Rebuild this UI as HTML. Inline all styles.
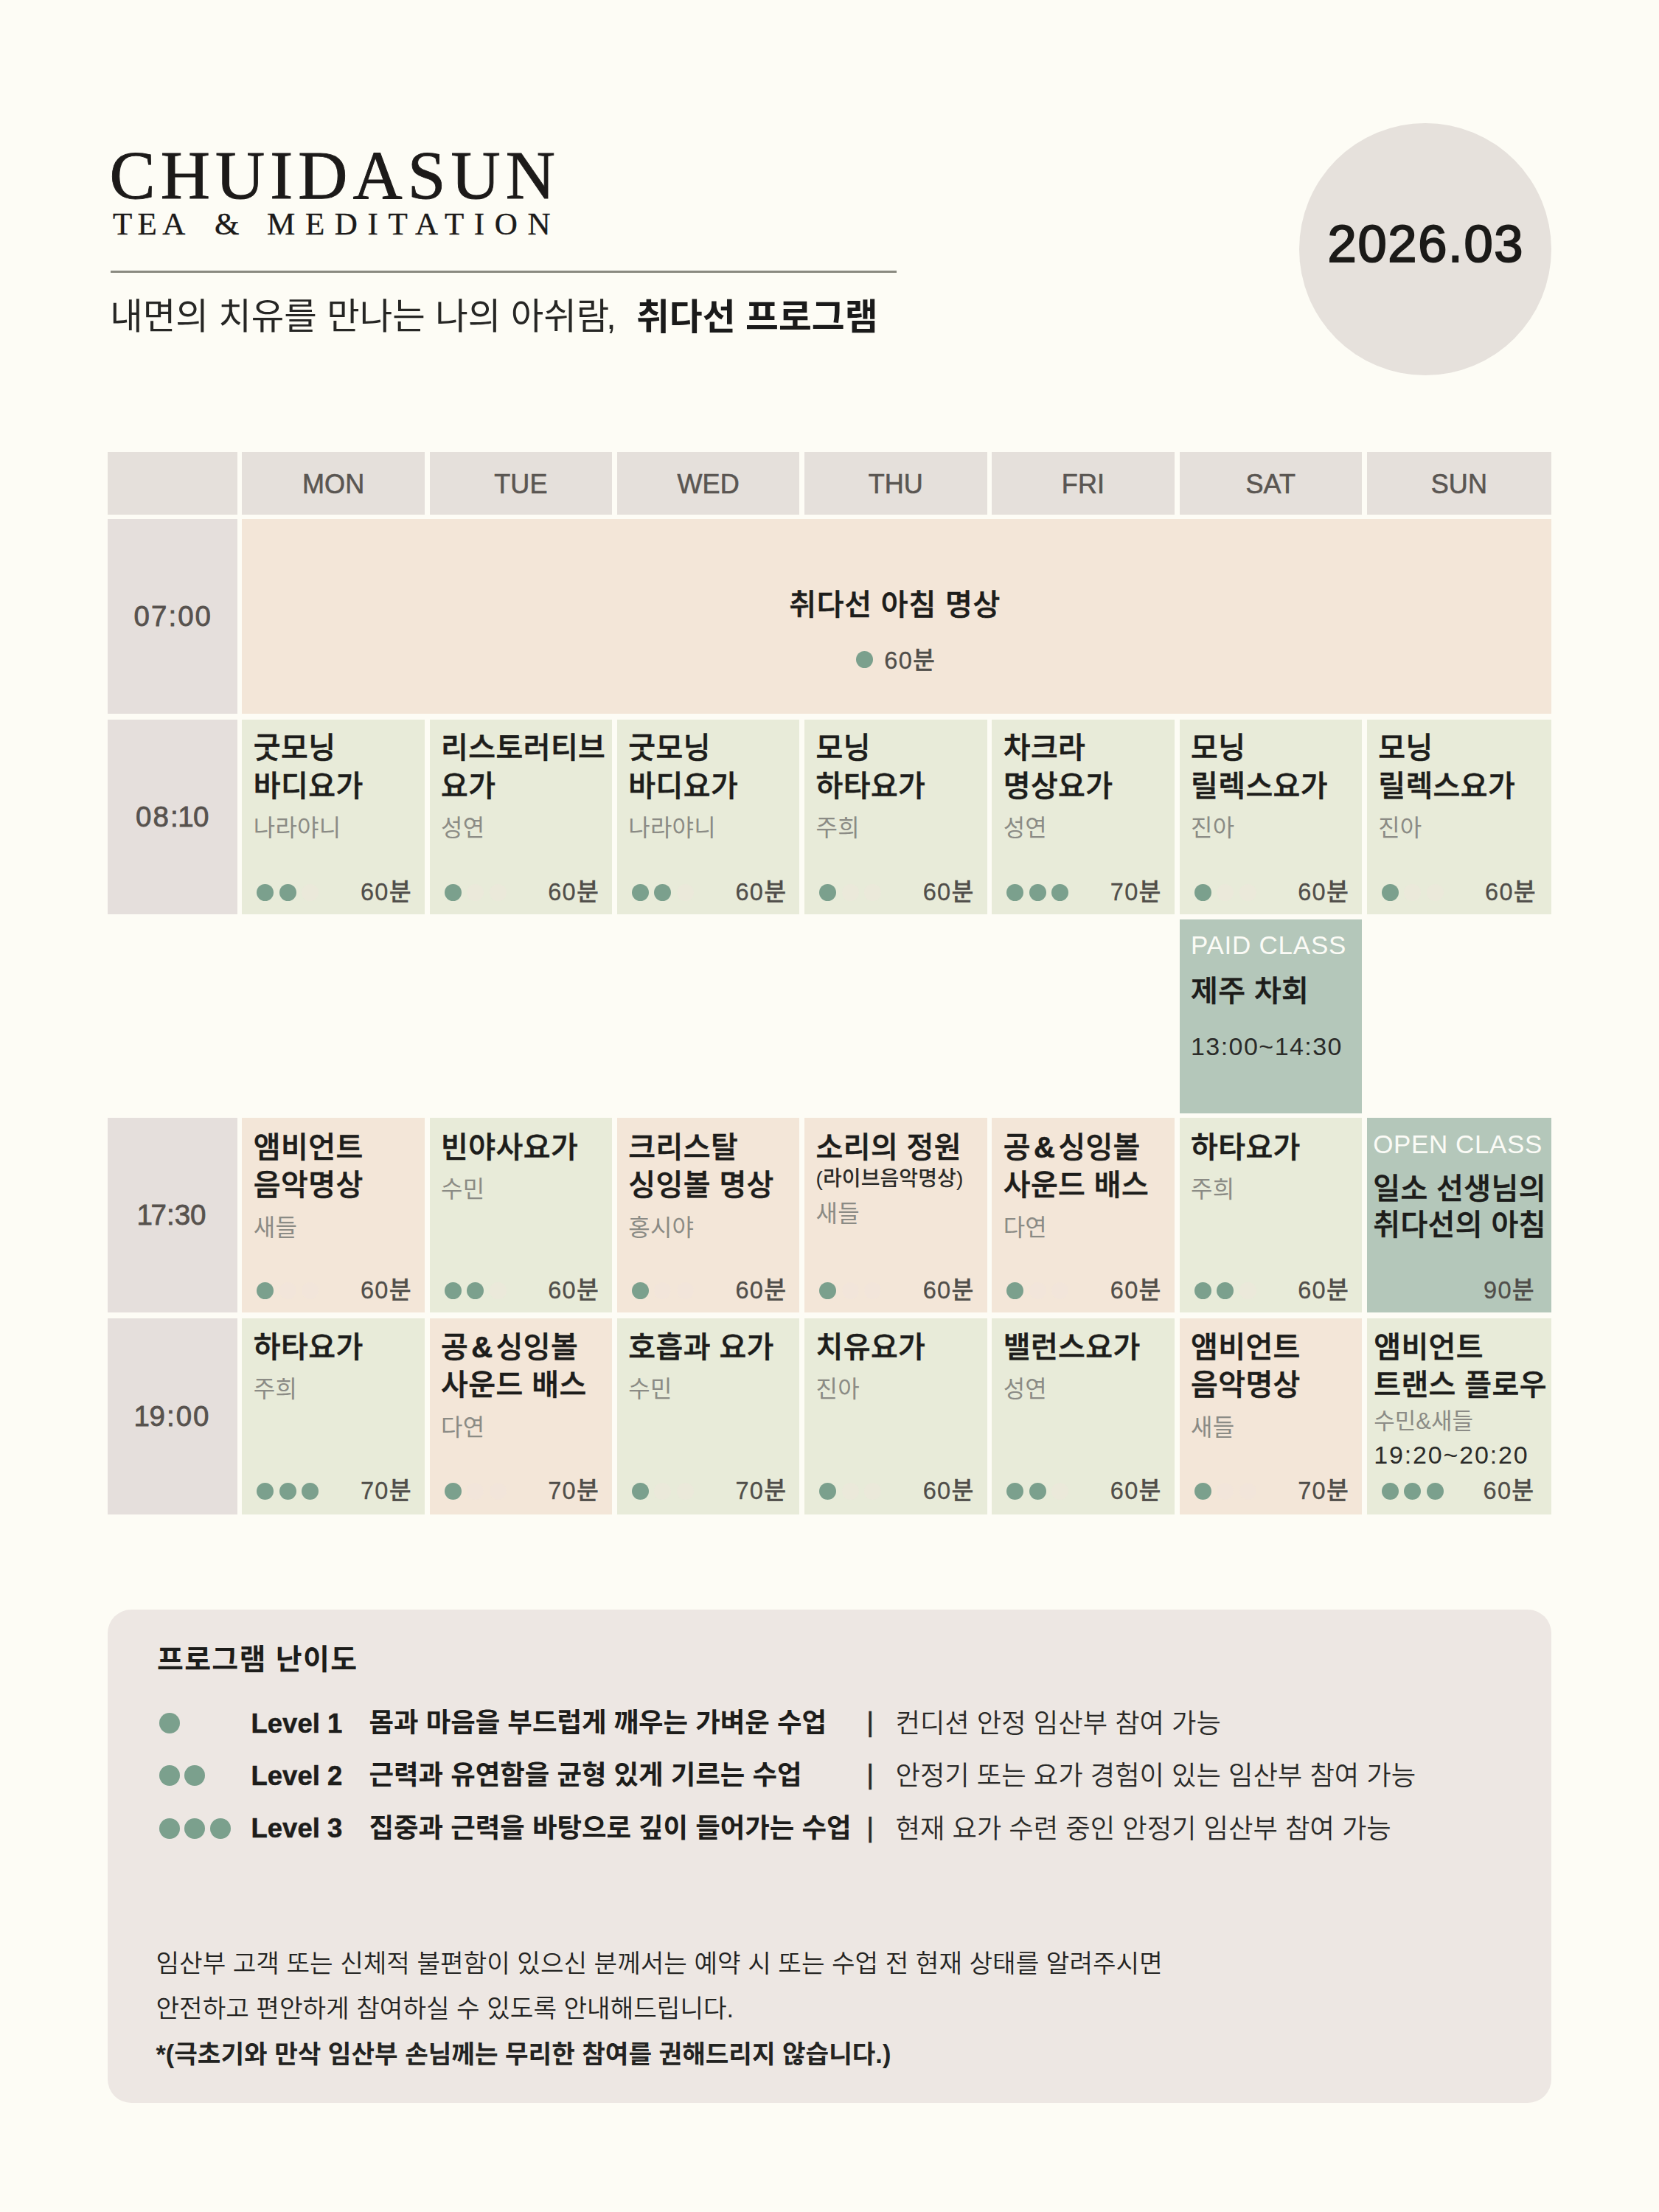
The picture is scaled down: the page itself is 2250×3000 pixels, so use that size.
<!DOCTYPE html>
<html lang="ko">
<head>
<meta charset="utf-8">
<title>CHUIDASUN 2026.03</title>
<style>
*{margin:0;padding:0;box-sizing:border-box}
html,body{width:2250px;height:3000px;background:#FDFCF5;overflow:hidden}
body{position:relative;font-family:"Liberation Sans","Noto Sans CJK KR",sans-serif;color:#1f1f1d}
.a{position:absolute;white-space:nowrap}
.c{position:absolute}
.hd{background:#E5E0DB;color:#5a5652;-webkit-text-stroke:.6px #5a5652;font-size:36px;line-height:88px;text-align:center;letter-spacing:.1px}
.tm{background:#E5DFDC;color:#57524e;font-weight:400;font-size:38.5px;letter-spacing:2px;text-indent:2px;text-align:center;-webkit-text-stroke:.8px #57524e}
.P{background:#F3E6D8}.G{background:#E8EBD9}.D{background:#B4C7BA}
.t{position:absolute;left:15.5px;top:13.5px;font-size:40px;line-height:51.5px;font-weight:500;-webkit-text-stroke:.6px #1d1d1b;color:#1d1d1b;white-space:nowrap;letter-spacing:.4px}
.n{display:block;font-size:32px;line-height:44px;font-weight:400;color:#8b8b85;letter-spacing:.2px;margin-top:9px;-webkit-text-stroke:0}
.s{display:block;-webkit-text-stroke:0;font-size:28px;line-height:32px;font-weight:500;color:#2a2a28;letter-spacing:.1px;margin-top:.7px;margin-bottom:2.7px}
.m{position:absolute;right:17px;top:212px;font-size:32.5px;line-height:44px;font-weight:500;color:#504e4a;-webkit-text-stroke:.3px #504e4a;letter-spacing:1.3px;white-space:nowrap}
.d{position:absolute;left:20px;top:223px;height:23px;white-space:nowrap;font-size:0}
.d i,.lg i{display:inline-block;width:23px;height:23px;border-radius:50%;background:#7BA08D;margin-right:7.6px}
.d i.g{background:rgba(241,229,221,.3)}
.k{position:absolute;left:15.5px;top:15.5px;font-size:35px;line-height:40px;color:#fbfbf6;letter-spacing:.75px;white-space:nowrap}
.lg1{font-family:"Liberation Serif","Noto Serif CJK SC",serif;font-size:93px;line-height:107px;letter-spacing:7.1px;color:#1c1a19;-webkit-text-stroke:.9px #1c1a19}
.lg2{font-family:"Liberation Serif","Noto Serif CJK SC",serif;font-size:43px;line-height:48px;letter-spacing:13px;color:#1c1a19;-webkit-text-stroke:.4px #1c1a19}
.x{display:block;-webkit-text-stroke:0;font-size:34px;line-height:40px;font-weight:400;color:#2b2b29;letter-spacing:1.85px;margin-top:2.5px}
.am{padding:0 4px;font-weight:700}
.o{margin:0 -2.5px}
</style>
</head>
<body>
<div class="a lg1" style="left:148.5px;top:184px">CHUIDASUN</div>
<div class="a lg2" style="left:153px;top:280px"><span style="letter-spacing:7.3px">TEA</span> <span style="position:absolute;left:138px;top:0;letter-spacing:0">&amp;</span> <span style="position:absolute;left:209px;top:0;letter-spacing:13.65px">MEDITATION</span></div>
<div class="c" style="left:150px;top:367.3px;width:1065.5px;height:2.3px;background:#8a8a80"></div>
<div class="a" style="left:149.3px;top:393.5px;font-size:48.4px;line-height:70px;font-weight:400;color:#262624">내면의 치유를 만나는 나의 아쉬람<span style="margin-left:-4px">,</span></div>
<div class="a" style="left:863px;top:394.5px;font-size:48.75px;line-height:70px;font-weight:700;color:#1a1a1a">취다선 프로그램</div>
<div class="c" style="left:1762px;top:166.5px;width:342px;height:342px;border-radius:50%;background:#E6E1DC"></div>
<div class="a" style="left:1762px;width:342px;top:289px;text-align:center;font-size:70.5px;line-height:84px;font-weight:400;-webkit-text-stroke:2px #1b1a18;color:#1b1a18;letter-spacing:1.7px;text-indent:1.7px">2026.03</div>
<div class="c hd" style="left:146px;top:613px;width:175.6px;height:85px"></div>
<div class="c hd" style="left:328.3px;top:613px;width:247.6px;height:85px">MON</div>
<div class="c hd" style="left:582.6px;top:613px;width:247.6px;height:85px">TUE</div>
<div class="c hd" style="left:836.8px;top:613px;width:247.6px;height:85px">WED</div>
<div class="c hd" style="left:1091px;top:613px;width:247.6px;height:85px">THU</div>
<div class="c hd" style="left:1345.2px;top:613px;width:247.6px;height:85px">FRI</div>
<div class="c hd" style="left:1599.5px;top:613px;width:247.6px;height:85px">SAT</div>
<div class="c hd" style="left:1853.7px;top:613px;width:250.3px;height:85px">SUN</div>
<div class="c tm" style="left:146px;top:704px;width:175.6px;height:264px;line-height:264px">07:00</div>
<div class="c tm" style="left:146px;top:975.5px;width:175.6px;height:264.79999999999995px;line-height:264.79999999999995px">08:<span class="o">1</span>0</div>
<div class="c tm" style="left:146px;top:1516px;width:175.6px;height:264.29999999999995px;line-height:264.29999999999995px;letter-spacing:0;text-indent:0"><span class="o">1</span>7:30</div>
<div class="c tm" style="left:146px;top:1788px;width:175.6px;height:266.3000000000002px;line-height:266.3000000000002px"><span class="o">1</span>9:00</div>
<div class="c P" style="left:328.3px;top:704px;width:1775.7px;height:264px"><div class="a" style="left:0;right:0;top:90px;text-align:center;font-size:40px;line-height:52px;font-weight:500;-webkit-text-stroke:.6px #1d1d1b;letter-spacing:.8px;padding-right:5px;color:#1d1d1b">취다선 아침 명상</div><div class="d" style="left:833px;top:179px"><i></i></div><div class="m" style="right:auto;left:871px;top:170px">60분</div></div>
<div class="c G" style="left:328.3px;top:975.5px;width:247.6px;height:264.79999999999995px"><div class="t" style="top:13.5px">굿모닝<br>바디요가<span class="n">나라야니</span></div><div class="d"><i></i><i></i><i class="g"></i></div><div class="m">60분</div></div>
<div class="c G" style="left:582.6px;top:975.5px;width:247.6px;height:264.79999999999995px"><div class="t" style="top:13.5px">리스토러티브<br>요가<span class="n">성연</span></div><div class="d"><i></i><i class="g"></i><i class="g"></i></div><div class="m">60분</div></div>
<div class="c G" style="left:836.8px;top:975.5px;width:247.6px;height:264.79999999999995px"><div class="t" style="top:13.5px">굿모닝<br>바디요가<span class="n">나라야니</span></div><div class="d"><i></i><i></i><i class="g"></i></div><div class="m">60분</div></div>
<div class="c G" style="left:1091px;top:975.5px;width:247.6px;height:264.79999999999995px"><div class="t" style="top:13.5px">모닝<br>하타요가<span class="n">주희</span></div><div class="d"><i></i><i class="g"></i><i class="g"></i></div><div class="m">60분</div></div>
<div class="c G" style="left:1345.2px;top:975.5px;width:247.6px;height:264.79999999999995px"><div class="t" style="top:13.5px">차크라<br>명상요가<span class="n">성연</span></div><div class="d"><i></i><i></i><i></i></div><div class="m">70분</div></div>
<div class="c G" style="left:1599.5px;top:975.5px;width:247.6px;height:264.79999999999995px"><div class="t" style="top:13.5px">모닝<br>릴렉스요가<span class="n">진아</span></div><div class="d"><i></i><i class="g"></i><i class="g"></i></div><div class="m">60분</div></div>
<div class="c G" style="left:1853.7px;top:975.5px;width:250.3px;height:264.79999999999995px"><div class="t" style="top:13.5px">모닝<br>릴렉스요가<span class="n">진아</span></div><div class="d"><i></i><i class="g"></i><i class="g"></i></div><div class="m" style="right:20px">60분</div></div>
<div class="c P" style="left:328.3px;top:1516px;width:247.6px;height:264.29999999999995px"><div class="t" style="top:14.5px">앰비언트<br>음악명상<span class="n">새들</span></div><div class="d"><i></i><i class="g"></i><i class="g"></i></div><div class="m">60분</div></div>
<div class="c G" style="left:582.6px;top:1516px;width:247.6px;height:264.29999999999995px"><div class="t" style="top:14.5px">빈야사요가<span class="n">수민</span></div><div class="d"><i></i><i></i><i class="g"></i></div><div class="m">60분</div></div>
<div class="c P" style="left:836.8px;top:1516px;width:247.6px;height:264.29999999999995px"><div class="t" style="top:14.5px">크리스탈<br>싱잉볼 명상<span class="n">홍시야</span></div><div class="d"><i></i><i class="g"></i><i class="g"></i></div><div class="m">60분</div></div>
<div class="c P" style="left:1091px;top:1516px;width:247.6px;height:264.29999999999995px"><div class="t" style="top:14.5px">소리의 정원<span class="s">(라이브음악명상)</span><span class="n">새들</span></div><div class="d"><i></i><i class="g"></i><i class="g"></i></div><div class="m">60분</div></div>
<div class="c P" style="left:1345.2px;top:1516px;width:247.6px;height:264.29999999999995px"><div class="t" style="top:14.5px">공<span class="am">&amp;</span>싱잉볼<br>사운드 배스<span class="n">다연</span></div><div class="d"><i></i><i class="g"></i><i class="g"></i></div><div class="m">60분</div></div>
<div class="c G" style="left:1599.5px;top:1516px;width:247.6px;height:264.29999999999995px"><div class="t" style="top:14.5px">하타요가<span class="n">주희</span></div><div class="d"><i></i><i></i><i class="g"></i></div><div class="m">60분</div></div>
<div class="c G" style="left:328.3px;top:1788px;width:247.6px;height:266.3000000000002px"><div class="t" style="top:13.5px">하타요가<span class="n">주희</span></div><div class="d"><i></i><i></i><i></i></div><div class="m">70분</div></div>
<div class="c P" style="left:582.6px;top:1788px;width:247.6px;height:266.3000000000002px"><div class="t" style="top:13.5px">공<span class="am">&amp;</span>싱잉볼<br>사운드 배스<span class="n">다연</span></div><div class="d"><i></i><i class="g"></i><i class="g"></i></div><div class="m">70분</div></div>
<div class="c G" style="left:836.8px;top:1788px;width:247.6px;height:266.3000000000002px"><div class="t" style="top:13.5px">호흡과 요가<span class="n">수민</span></div><div class="d"><i></i><i class="g"></i><i class="g"></i></div><div class="m">70분</div></div>
<div class="c G" style="left:1091px;top:1788px;width:247.6px;height:266.3000000000002px"><div class="t" style="top:13.5px">치유요가<span class="n">진아</span></div><div class="d"><i></i><i class="g"></i><i class="g"></i></div><div class="m">60분</div></div>
<div class="c G" style="left:1345.2px;top:1788px;width:247.6px;height:266.3000000000002px"><div class="t" style="top:13.5px">밸런스요가<span class="n">성연</span></div><div class="d"><i></i><i></i><i class="g"></i></div><div class="m">60분</div></div>
<div class="c P" style="left:1599.5px;top:1788px;width:247.6px;height:266.3000000000002px"><div class="t" style="top:13.5px">앰비언트<br>음악명상<span class="n">새들</span></div><div class="d"><i></i><i class="g"></i><i class="g"></i></div><div class="m">70분</div></div>
<div class="c G" style="left:1853.7px;top:1788px;width:250.3px;height:266.3000000000002px"><div class="t" style="left:9.5px;top:13.5px">앰비언트<br>트랜스 플로우<span class="n" style="font-size:31px;margin-top:1.5px;letter-spacing:0">수민&amp;새들</span><span class="x">19:20~20:20</span></div><div class="d"><i></i><i></i><i></i></div><div class="m" style="right:22.5px">60분</div></div>
<div class="c D" style="left:1599.5px;top:1246.5px;width:247.6px;height:263.0px"><div class="k">PAID CLASS</div><div class="t" style="top:72.3px">제주 차회</div><div class="a" style="left:15.5px;top:152.7px;font-size:34px;line-height:40px;color:#2b2b29;letter-spacing:1.45px">13:00~14:30</div></div>
<div class="c D" style="left:1853.7px;top:1516px;width:250.3px;height:264.29999999999995px"><div class="k" style="left:8.5px;top:16px;letter-spacing:.6px">OPEN CLASS</div><div class="t" style="left:8.5px;top:72px;line-height:48.5px">일소 선생님의<br>취다선의 아침</div><div class="m" style="right:22px">90분</div></div>
<div class="c" style="left:146px;top:2183px;width:1958px;height:669px;border-radius:32px;background:#EDE7E3"></div>
<div class="a" style="left:213px;top:2222.5px;font-size:39px;line-height:55px;font-weight:700;letter-spacing:1.3px;color:#1d1d1b">프로그램 난이도</div>
<div class="a lg" style="left:215.5px;top:2323.0px;height:28px;font-size:0"><i style="width:28px;height:28px;margin-right:6.5px"></i></div>
<div class="a" style="left:340.5px;top:2311.5px;font-size:36.5px;line-height:52px;font-weight:700;color:#1d1d1b;-webkit-text-stroke:.5px #1d1d1b">Level 1</div>
<div class="a" style="left:500.5px;top:2311.0px;font-size:36.45px;line-height:52px;font-weight:700;color:#1d1d1b">몸과 마음을 부드럽게 깨우는 가벼운 수업</div>
<div class="a" style="left:1175.5px;top:2310.0px;font-size:36px;line-height:52px;font-weight:400;-webkit-text-stroke:.7px #2a2a28;color:#2a2a28">|</div>
<div class="a" style="left:1214.5px;top:2312.0px;font-size:36.35px;line-height:52px;font-weight:350;color:#2a2a28">컨디션 안정 임산부 참여 가능</div>
<div class="a lg" style="left:215.5px;top:2394.3px;height:28px;font-size:0"><i style="width:28px;height:28px;margin-right:6.5px"></i><i style="width:28px;height:28px;margin-right:6.5px"></i></div>
<div class="a" style="left:340.5px;top:2382.8px;font-size:36.5px;line-height:52px;font-weight:700;color:#1d1d1b;-webkit-text-stroke:.5px #1d1d1b">Level 2</div>
<div class="a" style="left:500.5px;top:2382.3px;font-size:36.45px;line-height:52px;font-weight:700;color:#1d1d1b">근력과 유연함을 균형 있게 기르는 수업</div>
<div class="a" style="left:1175.5px;top:2381.3px;font-size:36px;line-height:52px;font-weight:400;-webkit-text-stroke:.7px #2a2a28;color:#2a2a28">|</div>
<div class="a" style="left:1214.5px;top:2383.3px;font-size:36.35px;line-height:52px;font-weight:350;color:#2a2a28">안정기 또는 요가 경험이 있는 임산부 참여 가능</div>
<div class="a lg" style="left:215.5px;top:2465.6px;height:28px;font-size:0"><i style="width:28px;height:28px;margin-right:6.5px"></i><i style="width:28px;height:28px;margin-right:6.5px"></i><i style="width:28px;height:28px;margin-right:6.5px"></i></div>
<div class="a" style="left:340.5px;top:2454.1px;font-size:36.5px;line-height:52px;font-weight:700;color:#1d1d1b;-webkit-text-stroke:.5px #1d1d1b">Level 3</div>
<div class="a" style="left:500.5px;top:2453.6px;font-size:36.45px;line-height:52px;font-weight:700;color:#1d1d1b">집중과 근력을 바탕으로 깊이 들어가는 수업</div>
<div class="a" style="left:1175.5px;top:2452.6px;font-size:36px;line-height:52px;font-weight:400;-webkit-text-stroke:.7px #2a2a28;color:#2a2a28">|</div>
<div class="a" style="left:1214.5px;top:2454.6px;font-size:36.35px;line-height:52px;font-weight:350;color:#2a2a28">현재 요가 수련 중인 안정기 임산부 참여 가능</div>
<div class="a" style="left:211.5px;top:2637.5px;font-size:34.33px;line-height:50px;font-weight:350;color:#232321">임산부 고객 또는 신체적 불편함이 있으신 분께서는 예약 시 또는 수업 전 현재 상태를 알려주시면</div>
<div class="a" style="left:211.5px;top:2699.0px;font-size:34.33px;line-height:50px;font-weight:350;color:#232321">안전하고 편안하게 참여하실 수 있도록 안내해드립니다.</div>
<div class="a" style="left:211.5px;top:2760.5px;font-size:34.33px;line-height:50px;font-weight:700;color:#232321">*(극초기와 만삭 임산부 손님께는 무리한 참여를 권해드리지 않습니다.)</div>
</body>
</html>
